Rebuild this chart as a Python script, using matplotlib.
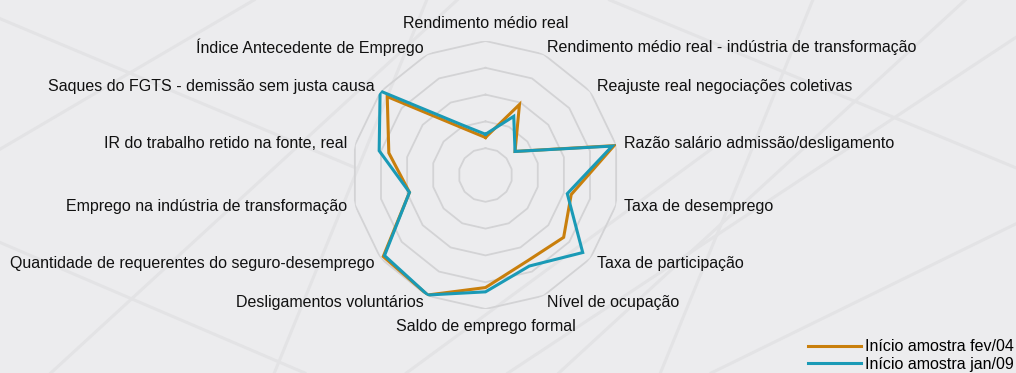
import numpy as np
import matplotlib
matplotlib.use("Agg")
import matplotlib.pyplot as plt
from matplotlib.lines import Line2D

plt.rcParams['font.family'] = ['Liberation Sans', 'DejaVu Sans']

categories = [
    "Rendimento médio real",
    "Rendimento médio real - indústria de transformação",
    "Reajuste real negociações coletivas",
    "Razão salário admissão/desligamento",
    "Taxa de desemprego",
    "Taxa de participação",
    "Nível de ocupação",
    "Saldo de emprego formal",
    "Desligamentos voluntários",
    "Quantidade de requerentes do seguro-desemprego",
    "Emprego na indústria de transformação",
    "IR do trabalho retido na fonte, real",
    "Saques do FGTS - demissão sem justa causa",
    "Índice Antecedente de Emprego",
]
serie_fev04 = [1.40, 2.92, 1.41, 4.92, 3.28, 3.73, 3.57, 4.20, 4.97, 4.88, 2.91, 3.70, 4.69, 1.94]
serie_jan09 = [1.52, 2.43, 1.41, 4.85, 3.13, 4.64, 3.77, 4.36, 4.97, 4.82, 2.91, 4.07, 5.03, 2.09]
labels = ["Início amostra fev/04", "Início amostra jan/09"]
colors = ["#c97f0c", "#1a9ab6"]
grid_levels = [1, 2, 3, 4, 5]

W, H = 1016, 373
fig = plt.figure(figsize=(W / 100, H / 100), dpi=100)
fig.patch.set_facecolor("#ececee")

# faint background decoration (street-map texture)
deco = [((0.0, 0.95), (0.35, 0.55)), ((0.05, 0.0), (0.45, 1.0)), ((0.55, 0.0), (0.95, 1.0)),
        ((0.6, 1.0), (1.0, 0.55)), ((0.0, 0.35), (0.3, 0.0)), ((0.7, 0.0), (1.0, 0.4)),
        ((0.25, 1.0), (0.0, 0.6)), ((0.4, 0.0), (0.7, 0.6)), ((0.8, 1.0), (0.65, 0.0)),
        ((0.27, 0.0), (0.42, 1.0)), ((0.5, 0.0), (1.0, 0.9))]
for (x0, y0), (x1, y1) in deco:
    fig.add_artist(Line2D([x0, x1], [y0, y1], transform=fig.transFigure,
                          color="#e3e3e5", lw=2.2, zorder=0))

cx, cy, R = 485.5, 175, 134
ax = fig.add_axes([(cx - R) / W, (H - cy - R) / H, 2 * R / W, 2 * R / H], projection="polar")
ax.set_facecolor("none")
ax.set_theta_offset(np.pi / 2)
ax.set_theta_direction(-1)
ax.set_ylim(0, 5)
ax.grid(False)
ax.spines["polar"].set_visible(False)
ax.set_xticks([])
ax.set_yticks([])

n = len(categories)
theta = np.arange(n) * 2 * np.pi / n
theta_c = np.append(theta, theta[0])

for lv in grid_levels:
    ax.plot(theta_c, [lv] * (n + 1), color="#d3d3d5", lw=1.3, zorder=1)

for vals, lab, col in zip([serie_fev04, serie_jan09], labels, colors):
    v = np.append(vals, vals[0])
    ax.plot(theta_c, v, color=col, lw=2.2, label=lab, zorder=3, solid_joinstyle="miter")

for t, c in zip(theta, categories):
    s = np.sin(t)
    r = 5.3
    if abs(s) < 1e-6:
        ha = "center"
        r = 5.65
    elif s > 0:
        ha = "left"
    else:
        ha = "right"
    ax.text(t, r, c, ha=ha, va="center", fontsize=11.5, color="#111111")

h, l = ax.get_legend_handles_labels()
fig.legend(h, l, loc="lower right", bbox_to_anchor=(1.0125, -0.035), frameon=False,
           fontsize=11.5, handlelength=3.3, handletextpad=0.3, labelspacing=0.15)

fig.savefig("out.png", dpi=100, facecolor=fig.get_facecolor())
